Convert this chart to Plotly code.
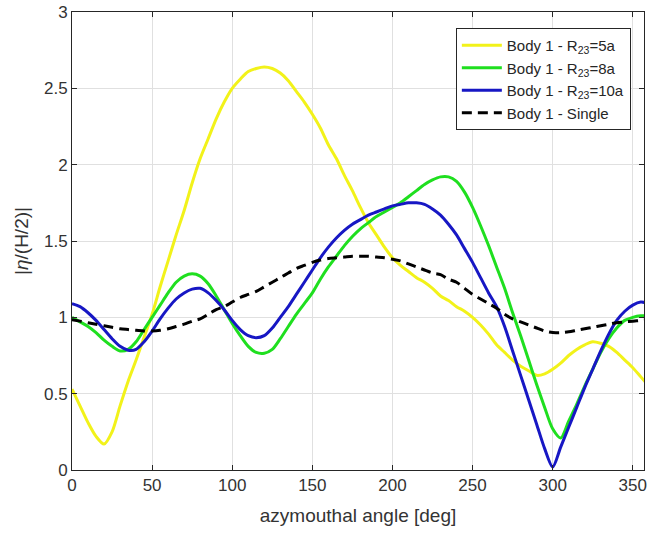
import plotly.graph_objects as go

# Azimuthal angle samples [deg]
angle = list(range(0, 361, 5))

# |eta|/(H/2) for Body 1 with a neighbouring body at R23 = 5a, 8a, 10a, and alone
r23_5a = [0.53, 0.42, 0.31, 0.22, 0.17, 0.25, 0.42, 0.58, 0.72, 0.87,
          1.02, 1.20, 1.37, 1.54, 1.70, 1.88, 2.04, 2.17, 2.30, 2.41,
          2.50, 2.56, 2.61, 2.63, 2.64, 2.63, 2.60, 2.55, 2.48, 2.41,
          2.33, 2.24, 2.13, 2.04, 1.93, 1.83, 1.72, 1.62, 1.54, 1.46,
          1.39, 1.34, 1.30, 1.26, 1.23, 1.19, 1.14, 1.11, 1.07, 1.04,
          1.00, 0.95, 0.89, 0.82, 0.77, 0.72, 0.68, 0.65, 0.62, 0.63,
          0.66, 0.70, 0.75, 0.79, 0.82, 0.84, 0.83, 0.81, 0.77, 0.72,
          0.67, 0.61, 0.55]

r23_8a = [1.00, 0.97, 0.94, 0.90, 0.85, 0.81, 0.78, 0.79, 0.84, 0.92,
          1.00, 1.08, 1.16, 1.23, 1.27, 1.285, 1.27, 1.22, 1.14, 1.05,
          0.96, 0.88, 0.81, 0.77, 0.765, 0.79, 0.86, 0.94, 1.02, 1.09,
          1.16, 1.25, 1.33, 1.40, 1.47, 1.53, 1.58, 1.62, 1.66, 1.69,
          1.72, 1.75, 1.79, 1.83, 1.87, 1.90, 1.92, 1.92, 1.89, 1.82,
          1.72, 1.60, 1.47, 1.33, 1.19, 1.03, 0.88, 0.72, 0.56, 0.41,
          0.27, 0.21, 0.32, 0.43, 0.55, 0.66, 0.77, 0.86, 0.93, 0.98,
          1.00, 1.01, 1.01]

r23_10a = [1.09, 1.07, 1.03, 0.98, 0.92, 0.86, 0.81, 0.785, 0.79, 0.84,
           0.91, 0.99, 1.06, 1.12, 1.16, 1.185, 1.19, 1.16, 1.11, 1.05,
           0.98, 0.92, 0.88, 0.867, 0.88, 0.93, 1.00, 1.07, 1.15, 1.23,
           1.31, 1.39, 1.46, 1.52, 1.57, 1.61, 1.64, 1.67, 1.69, 1.71,
           1.73, 1.74, 1.75, 1.75, 1.74, 1.71, 1.67, 1.61, 1.54, 1.45,
           1.36, 1.26, 1.16, 1.07, 0.94, 0.78, 0.62, 0.46, 0.30, 0.14,
           0.02, 0.15, 0.28, 0.41, 0.54, 0.66, 0.78, 0.89, 0.98, 1.04,
           1.08, 1.10, 1.09]

single = [0.985, 0.975, 0.965, 0.955, 0.945, 0.935, 0.925, 0.92, 0.915, 0.91,
          0.91, 0.915, 0.925, 0.94, 0.955, 0.975, 0.99, 1.02, 1.05, 1.07,
          1.10, 1.13, 1.15, 1.17, 1.20, 1.23, 1.26, 1.29, 1.32, 1.34,
          1.36, 1.375, 1.385, 1.39, 1.395, 1.40, 1.40, 1.40, 1.395, 1.39,
          1.38, 1.37, 1.35, 1.33, 1.31, 1.29, 1.28, 1.25, 1.23, 1.19,
          1.15, 1.12, 1.09, 1.06, 1.02, 0.99, 0.97, 0.95, 0.93, 0.91,
          0.90, 0.90, 0.905, 0.915, 0.925, 0.935, 0.945, 0.955, 0.965, 0.97,
          0.975, 0.98, 0.985]

series = [
    ("Body 1 - R<sub>23</sub>=5a", r23_5a, "#f2f21a", "solid"),
    ("Body 1 - R<sub>23</sub>=8a", r23_8a, "#1fdf1f", "solid"),
    ("Body 1 - R<sub>23</sub>=10a", r23_10a, "#1717c4", "solid"),
    ("Body 1 - Single", single, "#000000", "10px,6px"),
]

FONT = "Liberation Sans, Arial, sans-serif"

fig = go.Figure()
for name, vals, color, dash in series:
    fig.add_trace(go.Scatter(
        x=angle, y=vals, mode="lines", name=name,
        line=dict(color=color, width=3, dash=dash, shape="spline", smoothing=0.8),
    ))

axis_common = dict(
    showgrid=True, gridcolor="#e0e0e0", gridwidth=1,
    showline=True, linecolor="#262626", linewidth=1, mirror="ticks",
    ticks="inside", ticklen=5, tickcolor="#262626",
    tickfont=dict(family=FONT, size=17, color="#333333"),
    ticklabeloverflow="allow",
    zeroline=False,
)

fig.update_xaxes(
    range=[0, 357], tickvals=[0, 50, 100, 150, 200, 250, 300, 350],
    title=dict(text="azymouthal angle [deg]",
               font=dict(family=FONT, size=19, color="#333333"),
               standoff=14),
    **axis_common,
)
fig.update_yaxes(
    range=[0, 3], dtick=0.5,
    title=dict(text="|<i>η</i>/(H/2)|",
               font=dict(family=FONT, size=19, color="#333333"),
               standoff=10),
    **axis_common,
)

fig.update_layout(
    width=647, height=535,
    margin=dict(l=72, r=0, t=12, b=65),
    paper_bgcolor="white", plot_bgcolor="white",
    legend=dict(
        x=0.977, y=0.965, xanchor="right", yanchor="top",
        bgcolor="white", bordercolor="#262626", borderwidth=1,
        font=dict(family=FONT, size=15, color="#262626"),
        itemwidth=40, tracegroupgap=0,
    ),
    showlegend=True,
)

fig.write_html("out.html")
